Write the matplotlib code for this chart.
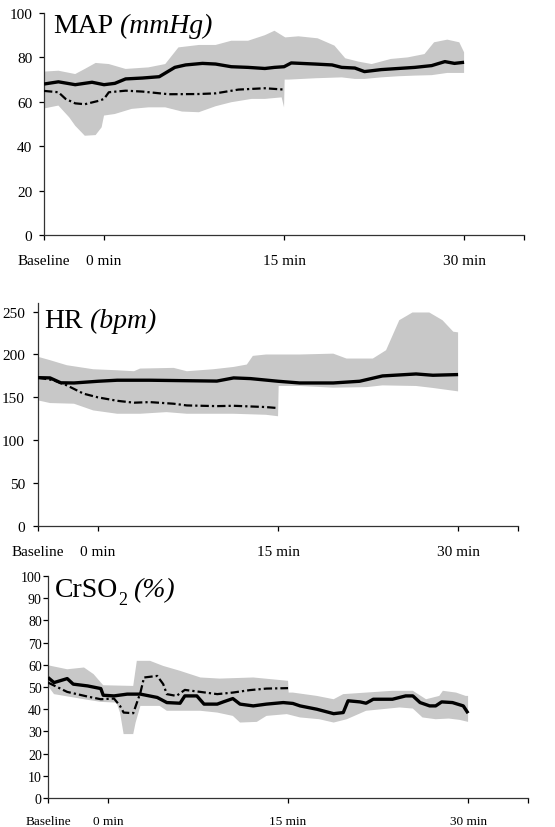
import matplotlib
matplotlib.use("Agg")
import matplotlib.pyplot as plt
import numpy as np

plt.rcParams['font.family'] = ['Liberation Serif', 'DejaVu Serif']
plt.rcParams['lines.scale_dashes'] = False

# ---------------- data ----------------
x_ticks = [-5, 0, 15, 30, 35]
x_ticklabels = ["Baseline", "0 min", "15 min", "30 min", ""]

# MAP
map_solid_x = [-5, -3.8, -2.4, -1.0, 0, 0.9, 1.8, 3.2, 4.6, 5.9, 6.8, 8.2, 9.3, 10.6, 12.0, 13.4, 14.2, 15.0,
               15.6, 17.6, 19.0, 19.8, 20.9, 21.7, 23.1, 24.5, 25.9, 27.3, 28.4, 29.2, 30.0]
map_solid_y = [68.0, 69.0, 67.7, 68.8, 67.7, 68.3, 70.3, 70.7, 71.3, 75.5, 76.6, 77.3, 77.0, 75.8, 75.5, 75.0,
               75.5, 75.8, 77.5, 77.0, 76.6, 75.5, 75.2, 73.6, 74.5, 75.0, 75.5, 76.3, 78.1, 77.3, 77.8]
map_dash_x = [-5, -3.8, -3.2, -2.4, -1.6, -0.4, 0, 0.4, 1.8, 3.2, 5.4, 7.9, 9.3, 11.2, 13.4, 15.0]
map_dash_y = [64.9, 64.3, 61.3, 59.3, 58.9, 60.5, 61.3, 64.3, 65.0, 64.6, 63.4, 63.5, 63.8, 65.5, 66.1, 65.5]
map_up_x = [-5, -3.8, -2.4, -1.6, -0.7, 0.4, 1.8, 3.7, 5.1, 6.2, 7.9, 9.3, 10.6, 12.0, 13.4, 14.2, 15.1, 16.2,
            17.8, 19.2, 20.1, 21.2, 22.3, 23.9, 25.3, 26.7, 27.5, 28.6, 29.6, 30.0]
map_up_y = [73.6, 74.0, 72.5, 74.8, 77.5, 77.0, 74.8, 75.5, 77.0, 84.5, 85.6, 85.6, 87.5, 87.5, 90.0, 92.0, 89.0,
            89.5, 88.6, 85.3, 79.6, 78.1, 77.0, 79.3, 80.0, 81.5, 86.8, 88.0, 86.8, 82.3]
map_lo_x = [-5, -3.8, -2.9, -2.4, -1.6, -0.7, -0.2, 0, 0.9, 2.3, 3.7, 5.1, 6.5, 7.9, 9.3, 10.6, 12.3, 13.4, 14.8,
            15.0, 15.05, 15.4, 17.6, 19.8, 20.9, 21.7, 23.1, 24.5, 25.9, 27.3, 28.6, 30.0]
map_lo_y = [57.0, 58.3, 53.0, 49.2, 44.7, 45.0, 48.5, 53.8, 54.5, 56.8, 57.5, 57.5, 55.6, 55.3, 58.0, 59.8, 61.3,
            61.3, 62.0, 57.5, 70.0, 70.0, 70.6, 71.0, 70.3, 70.3, 71.0, 71.5, 71.8, 72.0, 73.0, 73.0]

# HR
hr_solid_x = [-5, -4.0, -3.1, -2.0, 0, 1.6, 4.3, 7.1, 9.9, 11.3, 12.7, 15.0, 16.8, 19.6, 21.8, 23.7, 26.5, 27.9, 30.0]
hr_solid_y = [173, 172.7, 167, 166.8, 168.8, 170, 170, 169.5, 169, 172.7, 171.9, 168.8, 166.8, 166.8, 168.8, 175,
              177.3, 175.8, 176.6]
hr_dash_x = [-5, -3.7, -2.6, -1.2, 0, 1.6, 3.0, 4.3, 6.3, 7.4, 9.9, 11.3, 14.0, 15.0]
hr_dash_y = [173, 170, 164, 154.3, 150, 146, 143.8, 144.5, 142.6, 140.6, 139.8, 140.2, 138.7, 137.5]
hr_up_x = [-5, -4.0, -2.6, -0.4, 1.6, 3.0, 3.5, 6.3, 7.4, 9.6, 11.3, 12.4, 12.9, 14.0, 16.8, 19.6, 20.7, 22.9,
           24.0, 25.1, 26.2, 27.6, 28.7, 29.6, 30.0]
hr_up_y = [197.3, 193.4, 187.5, 182.8, 181.6, 180.5, 183.6, 184.4, 180.5, 182.8, 185.5, 188.3, 198.4, 200, 200,
           201, 195.3, 195.3, 205, 240, 249, 249, 240, 226.6, 225.8]
hr_lo_x = [-5, -4.0, -2.0, -0.4, 1.6, 3.5, 5.7, 7.4, 11.3, 14.0, 15.0, 15.05, 16.8, 19.6, 22.4, 23.7, 26.5, 27.9, 30.0]
hr_lo_y = [146.5, 143.4, 142.6, 134.8, 130.9, 130.9, 132.8, 130.9, 130.9, 129.7, 128, 163.3, 163.3, 161.3, 162,
           164, 163.3, 161, 157]

# CrSO2
cr_solid_x = [-5, -4.5, -3.4, -2.9, -1.7, -0.6, -0.4, 0.5, 1.6, 2.7, 4.1, 4.9, 6.0, 6.4, 7.4, 8.0, 9.1, 9.6, 10.4,
              11.0, 12.1, 13.2, 14.6, 15.4, 16.0, 17.4, 18.8, 19.6, 20.0, 21.0, 21.5, 22.1, 23.7, 24.8, 25.4, 26.0,
              26.8, 27.3, 27.8, 28.7, 29.6, 30.0]
cr_solid_y = [54.3, 52, 53.8, 51.3, 50.5, 49.3, 46.3, 46, 46.8, 46.8, 45.3, 43, 42.7, 46, 46, 42.3, 42.3, 43.3, 44.8,
              42.3, 41.5, 42.3, 43, 42.6, 41.5, 40, 38, 38.5, 43.8, 43.3, 42.7, 44.5, 44.5, 46, 46, 43, 41.5, 41.5,
              43.3, 43, 41.5, 38.2]
cr_dash_x = [-5, -3.4, -1.7, -0.6, 0.5, 1.0, 1.3, 2.1, 2.7, 3.0, 4.1, 4.6, 4.9, 5.7, 6.4, 7.7, 9.1, 10.4, 11.8,
             13.2, 15.0]
cr_dash_y = [52, 47.8, 45.7, 44.5, 44.8, 41.5, 38.5, 38.2, 47.5, 54.3, 55, 51.3, 46.8, 46, 48.7, 47.8, 46.8, 47.5,
             48.6, 49.3, 49.5]
cr_up_x = [-5, -3.4, -2.0, -1.2, -0.4, 2.1, 2.4, 3.5, 4.6, 6.0, 7.7, 9.3, 12.1, 15.0, 15.05, 15.4, 17.4, 18.8,
           19.6, 21.5, 23.7, 25.4, 26.5, 27.6, 27.9, 29.0, 29.8, 30.0]
cr_up_y = [59.8, 58, 58.8, 55.8, 50.8, 50.5, 61.8, 61.8, 59.5, 57.3, 54.3, 53.8, 54.3, 52.8, 47.5, 47.5, 46, 44.5,
           46.8, 47.5, 48.3, 48.3, 44.5, 46, 48.3, 47.5, 46, 46]
cr_lo_x = [-5, -4.5, -2.0, -0.6, 0.7, 1.0, 1.3, 2.1, 2.3, 2.7, 4.3, 4.9, 7.7, 9.1, 10.4, 11.0, 12.4, 13.2, 14.9,
           16.0, 17.6, 18.8, 19.9, 21.5, 24.3, 25.4, 26.2, 27.3, 28.4, 29.3, 30.0]
cr_lo_y = [50.5, 46.8, 44.5, 43.3, 43, 38.5, 28.8, 28.8, 34, 41.5, 41.5, 39.3, 39.3, 38.5, 37, 34, 34.3, 37, 37.8,
           36.3, 35.5, 34, 35.5, 39.3, 40.8, 40.3, 36.3, 35.5, 35.8, 35.2, 34.3]

# ---------------- figure ----------------
BAND = '#c8c8c8'
TITLE_SIZE = 20
fig = plt.figure(figsize=(5.55, 8.28), dpi=100)

panels = [
    dict(rect=[0.0793, 0.7150, 0.865, 0.2681], ylim=(0, 100), yticks=[0, 20, 40, 60, 80, 100],
         title=("MAP", None, " (mmHg)"), tpos=(0.019, 0.914), ysize=11, xsize=11, ypad=5, xpad=10,
         solid=(map_solid_x, map_solid_y), dash=(map_dash_x, map_dash_y),
         up=(map_up_x, map_up_y), lo=(map_lo_x, map_lo_y)),
    dict(rect=[0.0685, 0.3635, 0.865, 0.2693], ylim=(0, 260), yticks=[0, 50, 100, 150, 200, 250],
         title=("HR", None, " (bpm)"), tpos=(0.0125, 0.892), ysize=11, xsize=11, ypad=6, xpad=10,
         solid=(hr_solid_x, hr_solid_y), dash=(hr_dash_x, hr_dash_y),
         up=(hr_up_x, hr_up_y), lo=(hr_lo_x, hr_lo_y)),
    dict(rect=[0.0865, 0.0350, 0.865, 0.2681], ylim=(0, 100), yticks=list(range(0, 101, 10)),
         title=("CrSO", "2", "(%)"), tpos=(0.015, 0.91), ysize=10, xsize=9.5, ypad=1, xpad=9,
         solid=(cr_solid_x, cr_solid_y), dash=(cr_dash_x, cr_dash_y),
         up=(cr_up_x, cr_up_y), lo=(cr_lo_x, cr_lo_y)),
]

for p in panels:
    ax = fig.add_axes(p['rect'])
    ux, uy = p['up']
    lx, ly = p['lo']
    ax.fill(list(ux) + list(lx)[::-1], list(uy) + list(ly)[::-1], color=BAND, lw=0, zorder=1)
    ax.plot(*p['dash'], color='black', lw=1.6, dashes=(6, 2.2, 1.6, 2.2), zorder=3)
    ax.plot(*p['solid'], color='black', lw=2.4, zorder=4, solid_capstyle='butt')
    ax.set_xlim(-5, 35)
    ax.set_ylim(*p['ylim'])
    ax.set_yticks(p['yticks'])
    ax.set_xticks(x_ticks)
    ax.set_xticklabels(x_ticklabels)
    for s in ['top', 'right']:
        ax.spines[s].set_visible(False)
    for s in ['left', 'bottom']:
        ax.spines[s].set_linewidth(0.9)
        ax.spines[s].set_color('#333333')
    ax.tick_params(axis='y', direction='out', length=3.5, width=0.9, labelsize=p['ysize'], pad=p['ypad'])
    ax.tick_params(axis='x', direction='out', length=3.5, width=0.9, labelsize=p['xsize'], pad=p['xpad'])

    main, sub, ital = p['title']
    tx, ty = p['tpos']
    t1 = ax.text(tx, ty, main, transform=ax.transAxes, fontsize=TITLE_SIZE,
                 ha='left', va='baseline', zorder=5)
    if sub is not None:
        t2 = ax.annotate(sub, xy=(1, ty), xycoords=(t1, ax.transAxes),
                         xytext=(0.2, -6), textcoords='offset points',
                         fontsize=13, ha='left', va='baseline', zorder=5)
        ax.annotate(ital, xy=(1, ty), xycoords=(t2, ax.transAxes),
                    xytext=(3.5, 0), textcoords='offset points',
                    fontsize=TITLE_SIZE, fontstyle='italic', ha='left', va='baseline', zorder=5)
    else:
        ax.annotate(ital, xy=(1, ty), xycoords=(t1, ax.transAxes),
                    fontsize=TITLE_SIZE, fontstyle='italic', ha='left', va='baseline', zorder=5)
    ax.set_facecolor('none')

fig.savefig('out.png', dpi=100)
